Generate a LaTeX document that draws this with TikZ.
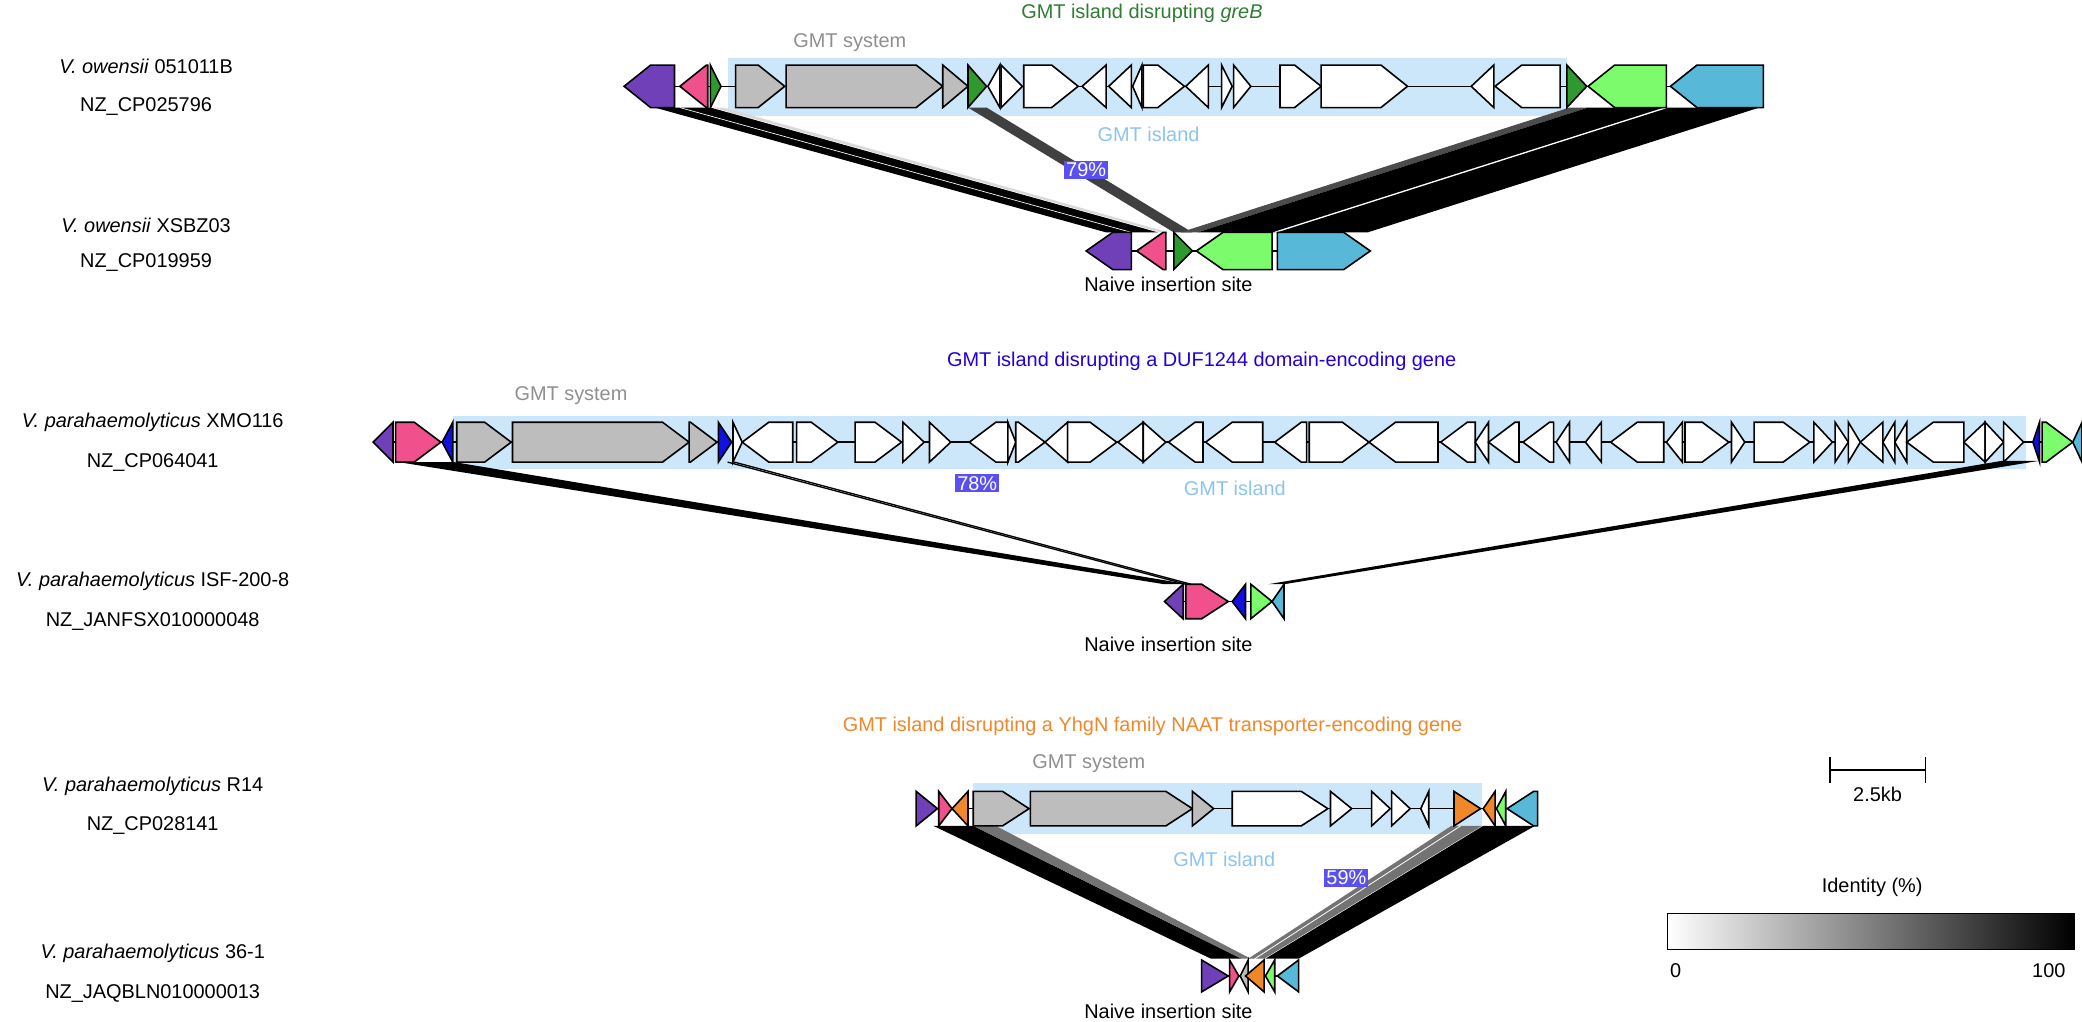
\documentclass[tikz,border=0pt]{standalone}
\usepackage{fontspec}
\setmainfont{Liberation Sans}
\begin{document}
\definecolor{cpur}{HTML}{7040B8}\definecolor{cpink}{HTML}{F0508C}
\definecolor{cdg}{HTML}{2E9A2E}\definecolor{cbg}{HTML}{7CFC6C}
\definecolor{ccy}{HTML}{58B8D8}\definecolor{cgr}{HTML}{BDBDBD}
\definecolor{cbl}{HTML}{1010E0}\definecolor{cor}{HTML}{F0882A}
\definecolor{cisl}{HTML}{CCE6FA}\definecolor{cisltxt}{HTML}{8CC4F0}
\definecolor{ctg}{HTML}{2E7D32}\definecolor{csys}{HTML}{8F8F8F}
\definecolor{cpct}{HTML}{5A4FF0}\definecolor{ctb}{HTML}{2200DD}
\newcommand\gR[3]{\pgfmathsetmacro\H{min(#2-#1,\hl)}%
 \filldraw[gene,fill=#3] (#1,\yc-\hh) -- (#2-\H,\yc-\hh) -- (#2,\yc) -- (#2-\H,\yc+\hh) -- (#1,\yc+\hh) -- cycle;}
\newcommand\gL[3]{\pgfmathsetmacro\H{min(#2-#1,\hl)}%
 \filldraw[gene,fill=#3] (#2,\yc-\hh) -- (#1+\H,\yc-\hh) -- (#1,\yc) -- (#1+\H,\yc+\hh) -- (#2,\yc+\hh) -- cycle;}
\begin{tikzpicture}[x=1pt,y=-1pt,
  gene/.style={draw=black,line width=1.2pt,line join=miter},
  lab/.style={font=\fontsize{15}{18}\selectfont},
  pct/.style={fill=cpct,text=white,font=\fontsize{15}{18}\selectfont,inner sep=1.5pt},
  isl/.style={fill=cisl,draw=none},
  bb/.style={line width=1.2pt},
  rib/.style={draw=none}]
\useasboundingbox (0,0) rectangle (1568,769);
\fill[white] (0,0) rectangle (1568,769);
% ---------------- left labels
\node[lab] (l1a) at (110,50) {\textit{V. owensii} 051011B};
\node[lab] (l1b) at (110,80) {NZ\_CP025796};
\node[lab] (l2a) at (110,170) {\textit{V. owensii} XSBZ03};
\node[lab] (l2b) at (110,198) {NZ\_CP019959};
\node[lab] (l3a) at (115,318) {\textit{V. parahaemolyticus} XMO116};
\node[lab] (l3b) at (115,348) {NZ\_CP064041};
\node[lab] (l4a) at (115,438) {\textit{V. parahaemolyticus} ISF-200-8};
\node[lab] (l4b) at (115,468) {NZ\_JANFSX010000048};
\node[lab] (l5a) at (115,592) {\textit{V. parahaemolyticus} R14};
\node[lab] (l5b) at (115,622) {NZ\_CP028141};
\node[lab] (l6a) at (115,718) {\textit{V. parahaemolyticus} 36-1};
\node[lab] (l6b) at (115,748) {NZ\_JAQBLN010000013};
% ================= BLOCK 1
\fill[isl] (548,44) rectangle (1180,87);
\node[lab,text=ctg] (t1) at (860,10) {GMT island disrupting \textit{greB}};
\node[lab,text=csys] (s1) at (640,32) {GMT system};
\node[lab,text=cisltxt] (i1) at (865,101) {GMT island};
\draw[bb] (470,65) -- (1328,65);
\draw[bb] (818,189) -- (1032,189);
% ribbons
\fill[rib,black] (493,81) -- (535,81) -- (872,175) -- (833,175) -- cycle;
\fill[rib,white!85!black] (537,81) -- (545,81) -- (880,175) -- (874,175) -- cycle;
\draw[white,line width=0.5pt] (512,81) -- (852,175);
\fill[rib,black!75] (729,81) -- (743,81) -- (898,175) -- (884,175) -- cycle;
\fill[rib,black!70] (1182,81) -- (1196,81) -- (902,175) -- (889,175) -- cycle;
\fill[rib,black] (1196,81) -- (1325,81) -- (1030,175) -- (902,175) -- cycle;
\draw[white,line width=1pt] (1255,81) -- (960,175);
\node[pct] (p1) at (818,128) {79\%};
% genes top
\def\yc{65}\def\hh{16}\def\hl{20}
\gL{470}{508}{cpur}\gL{512}{533}{cpink}\gR{535}{543}{cdg}
\gR{554}{591}{cgr}\gR{592}{710}{cgr}\gR{710}{729}{cgr}\gR{729}{743}{cdg}
\gL{744}{753}{white}\gR{754}{770}{white}\gR{771}{812}{white}\gL{815}{833}{white}
\gL{835}{852}{white}\gL{853}{860}{white}\gR{861}{892}{white}\gL{893}{910}{white}
\gR{920}{928}{white}\gR{929}{942}{white}\gR{964}{995}{white}\gR{995}{1060}{white}
\gL{1108}{1125}{white}\gL{1126}{1175}{white}\gR{1180}{1195}{cdg}
\gL{1196}{1255}{cbg}\gL{1258}{1328}{ccy}
% genes bottom
\def\yc{189}\def\hh{14}
\gL{818}{852}{cpur}\gL{856}{878}{cpink}\gR{884}{898}{cdg}
\gL{901}{958}{cbg}\gR{962}{1032}{ccy}
\node[lab] (n1) at (880,214) {Naive insertion site};
% ================= BLOCK 2
\fill[isl] (341,313) rectangle (1526,353);
\node[lab,text=ctb] (t2) at (905,272) {GMT island disrupting a DUF1244 domain-encoding gene};
\node[lab,text=csys] (s2) at (430,298) {GMT system};
\node[lab,text=cisltxt] (i2) at (930,368) {GMT island};
\draw[bb] (281,333) -- (1568,333);
\draw[bb] (877,453) -- (967,453);
\fill[rib,black] (300,348) -- (342,348) -- (895,440) -- (877,440) -- cycle;
\draw[black,line width=1pt] (548,348) -- (893,440);
\draw[black,line width=1pt] (553,348) -- (897,440);
\fill[rib,black] (1508,347) -- (1536,347) -- (967,440) -- (955,440) -- cycle;
\node[pct] (p2) at (736,364) {78\%};
\def\yc{333}\def\hh{15}\def\hl{20}
\gL{281}{296}{cpur}\gR{298}{332}{cpink}\gL{333}{341}{cbl}
\gR{344}{385}{cgr}\gR{386}{519}{cgr}\gR{519}{540}{cgr}\gR{541}{551}{cbl}
\gR{552}{559}{white}\gL{559}{597}{white}\gR{600}{631}{white}\gR{644}{679}{white}
\gR{680}{696}{white}\gR{700}{716}{white}\gL{730}{759}{white}\gR{759}{765}{white}
\gR{765}{787}{white}\gL{787}{804}{white}\gR{804}{841}{white}\gL{842}{861}{white}
\gR{861}{878}{white}\gL{880}{906}{white}\gL{908}{951}{white}\gL{960}{984}{white}
\gR{986}{1031}{white}\gL{1031}{1083}{white}\gL{1085}{1111}{white}\gL{1111}{1121}{white}
\gL{1121}{1144}{white}\gL{1147}{1170}{white}\gL{1172}{1182}{white}\gL{1194}{1206}{white}
\gL{1213}{1253}{white}\gL{1255}{1267}{white}\gR{1269}{1302}{white}\gR{1304}{1314}{white}
\gR{1321}{1363}{white}\gR{1366}{1380}{white}\gR{1382}{1392}{white}\gR{1392}{1401}{white}
\gL{1401}{1418}{white}\gL{1418}{1427}{white}\gL{1427}{1436}{white}\gL{1436}{1479}{white}
\gL{1479}{1495}{white}\gR{1495}{1509}{white}\gR{1509}{1524}{white}
\gL{1531}{1536}{cbl}\gR{1538}{1561}{cbg}\gL{1561}{1568}{ccy}
\def\yc{453}\def\hh{13}
\gL{877}{891}{cpur}\gR{893}{925}{cpink}\gL{928}{938}{cbl}\gR{942}{958}{cbg}\gL{958}{967}{ccy}
\node[lab] (n2) at (880,485) {Naive insertion site};
% ================= BLOCK 3
\fill[isl] (733,590) rectangle (1116,628);
\node[lab,text=cor] (t3) at (868,547) {GMT island disrupting a YhgN family NAAT transporter-encoding gene};
\node[lab,text=csys] (s3) at (820,575) {GMT system};
\node[lab,text=cisltxt] (i3) at (922,647) {GMT island};
\draw[bb] (690,609) -- (1158,609);
\draw[bb] (905,735) -- (978,735);
\fill[rib,black] (703,622) -- (733,622) -- (935,722) -- (912,722) -- cycle;
\fill[rib,black!55] (733,622) -- (750,622) -- (942,722) -- (935,722) -- cycle;
\fill[rib,black!55] (1093,622) -- (1116,622) -- (952,722) -- (940,722) -- cycle;
\draw[white,line width=0.6pt] (1100,622) -- (945,722);
\fill[rib,black] (1117,622) -- (1156,622) -- (978,722) -- (953,722) -- cycle;
\node[pct] (p3) at (1014,661) {59\%};
\def\yc{609}\def\hh{13}\def\hl{20}
\gR{690}{706}{cpur}\gR{707}{717}{cpink}\gL{717}{729}{cor}
\gR{733}{775}{cgr}\gR{776}{898}{cgr}\gR{898}{914}{cgr}
\gR{928}{1000}{white}\gR{1002}{1018}{white}\gR{1033}{1047}{white}\gR{1048}{1062}{white}
\gL{1070}{1076}{white}\gR{1095}{1115}{cor}\gL{1117}{1126}{cor}\gL{1127}{1134}{cbg}\gL{1135}{1158}{ccy}
\def\yc{735}\def\hh{12}
\gR{905}{925}{cpur}\gR{926}{933}{cpink}\gL{934}{940}{cgr}\gL{938}{952}{cor}\gL{953}{960}{cbg}\gL{962}{978}{ccy}
\node[lab] (n3) at (880,762) {Naive insertion site};
% ================= scale and legend
\coordinate (sbl) at (1378,580); \coordinate (sbr) at (1450,580);
\draw[line width=1.2pt] (sbl) -- (sbr);
\draw[line width=1.2pt] (1378,570) -- (1378,590) (1450,570) -- (1450,590);
\node[lab] (sbt) at (1414,598) {2.5kb};
\node[lab] (idt) at (1410,668) {Identity (\%)};
\shade[left color=white,right color=black] (1256,688) rectangle (1562,715);
\draw[line width=0.8pt] (1256,688) rectangle (1562,715);
\node[lab] (i0) at (1262,731) {0};
\node[lab] (i100) at (1543,731) {100};
\end{tikzpicture}
\end{document}
